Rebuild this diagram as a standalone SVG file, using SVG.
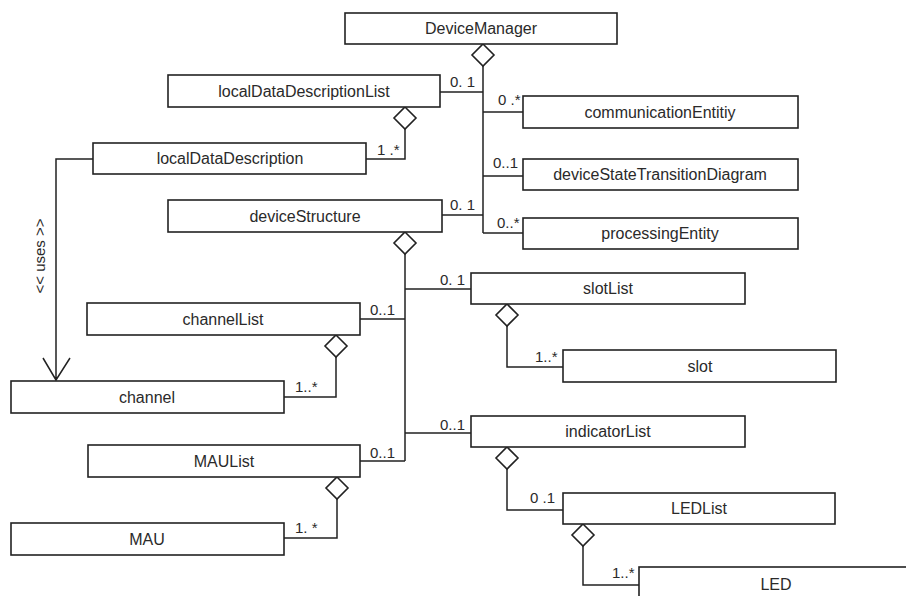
<svg xmlns="http://www.w3.org/2000/svg" width="906" height="596" viewBox="0 0 906 596">
<defs>
<style>
.box{fill:#fff;stroke:#222;stroke-width:1.6}
.t{font-family:"Liberation Sans",Arial,sans-serif;font-size:16px;fill:#2a2a2a;text-anchor:middle}
.m{font-family:"Liberation Sans",Arial,sans-serif;font-size:15px;fill:#2a2a2a}
.c{fill:none;stroke:#222;stroke-width:1.5}
.d{fill:#fff;stroke:#222;stroke-width:1.6}
</style>
</defs>
<rect width="906" height="596" fill="#fff"/>
<g id="connectors">
<path class="c" d="M483,66 V233 M440,92 H483 M483,112 H523 M483,176 H523 M442,215 H483 M483,233 H523"/>
<path class="c" d="M405,129 V159 H366"/>
<path class="c" d="M93,159 H56 V380 M43,358 L56,380 L70,358"/>
<path class="c" d="M405,254 V461 M405,289 H471 M360,319 H405 M405,433 H471 M360,461 H405"/>
<path class="c" d="M507,326 V367 H563"/>
<path class="c" d="M336,357 V397 H284"/>
<path class="c" d="M507,469 V510 H563"/>
<path class="c" d="M337,499 V538 H284"/>
<path class="c" d="M583,546 V585 H639"/>
<path class="d" d="M483,44 L494,55 L483,66 L472,55 Z"/>
<path class="d" d="M405,107 L416,118 L405,129 L394,118 Z"/>
<path class="d" d="M405,232 L416,243 L405,254 L394,243 Z"/>
<path class="d" d="M507,304 L518,315 L507,326 L496,315 Z"/>
<path class="d" d="M336,335 L347,346 L336,357 L325,346 Z"/>
<path class="d" d="M507,447 L518,458 L507,469 L496,458 Z"/>
<path class="d" d="M337,477 L348,488 L337,499 L326,488 Z"/>
<path class="d" d="M583,524 L594,535 L583,546 L572,535 Z"/>
<text class="m" x="450" y="87">0. 1</text>
<text class="m" x="498" y="105">0 .*</text>
<text class="m" x="493" y="168">0..1</text>
<text class="m" x="450" y="210">0. 1</text>
<text class="m" x="497" y="228">0..*</text>
<text class="m" x="377" y="155">1 .*</text>
<text class="m" x="440" y="285">0. 1</text>
<text class="m" x="370" y="315">0..1</text>
<text class="m" x="535" y="362">1..*</text>
<text class="m" x="295" y="392">1..*</text>
<text class="m" x="440" y="430">0..1</text>
<text class="m" x="370" y="458">0..1</text>
<text class="m" x="530" y="503">0 .1</text>
<text class="m" x="295" y="533">1. *</text>
<text class="m" x="612" y="578">1..*</text>
<text class="m" transform="translate(45,256) rotate(-90)" text-anchor="middle">&lt;&lt; uses &gt;&gt;</text>
</g>
<g id="DeviceManager"><rect class="box" x="345" y="13" width="272" height="31"/><text class="t" x="481" y="34">DeviceManager</text></g>
<g id="localDataDescriptionList"><rect class="box" x="168" y="75" width="272" height="32"/><text class="t" x="304" y="97">localDataDescriptionList</text></g>
<g id="localDataDescription"><rect class="box" x="93" y="143" width="273" height="31"/><text class="t" x="230" y="164">localDataDescription</text></g>
<g id="deviceStructure"><rect class="box" x="168" y="200" width="274" height="32"/><text class="t" x="305" y="222">deviceStructure</text></g>
<g id="communicationEntitiy"><rect class="box" x="523" y="96" width="275" height="32"/><text class="t" x="660" y="118">communicationEntitiy</text></g>
<g id="deviceStateTransitionDiagram"><rect class="box" x="523" y="159" width="275" height="31"/><text class="t" x="660" y="180">deviceStateTransitionDiagram</text></g>
<g id="processingEntity"><rect class="box" x="523" y="218" width="275" height="31"/><text class="t" x="660" y="239">processingEntity</text></g>
<g id="slotList"><rect class="box" x="471" y="273" width="274" height="31"/><text class="t" x="608" y="294">slotList</text></g>
<g id="channelList"><rect class="box" x="87" y="303" width="273" height="32"/><text class="t" x="223" y="325">channelList</text></g>
<g id="slot"><rect class="box" x="563" y="350" width="273" height="32"/><text class="t" x="700" y="372">slot</text></g>
<g id="channel"><rect class="box" x="11" y="381" width="273" height="32"/><text class="t" x="147" y="403">channel</text></g>
<g id="indicatorList"><rect class="box" x="471" y="416" width="274" height="31"/><text class="t" x="608" y="437">indicatorList</text></g>
<g id="MAUList"><rect class="box" x="88" y="445" width="272" height="32"/><text class="t" x="224" y="467">MAUList</text></g>
<g id="LEDList"><rect class="box" x="563" y="493" width="272" height="31"/><text class="t" x="699" y="514">LEDList</text></g>
<g id="MAU"><rect class="box" x="11" y="523" width="273" height="32"/><text class="t" x="147" y="545">MAU</text></g>
<g id="LED"><rect class="box" x="639" y="567" width="275" height="40"/><text class="t" x="776" y="590">LED</text></g>
</svg>
